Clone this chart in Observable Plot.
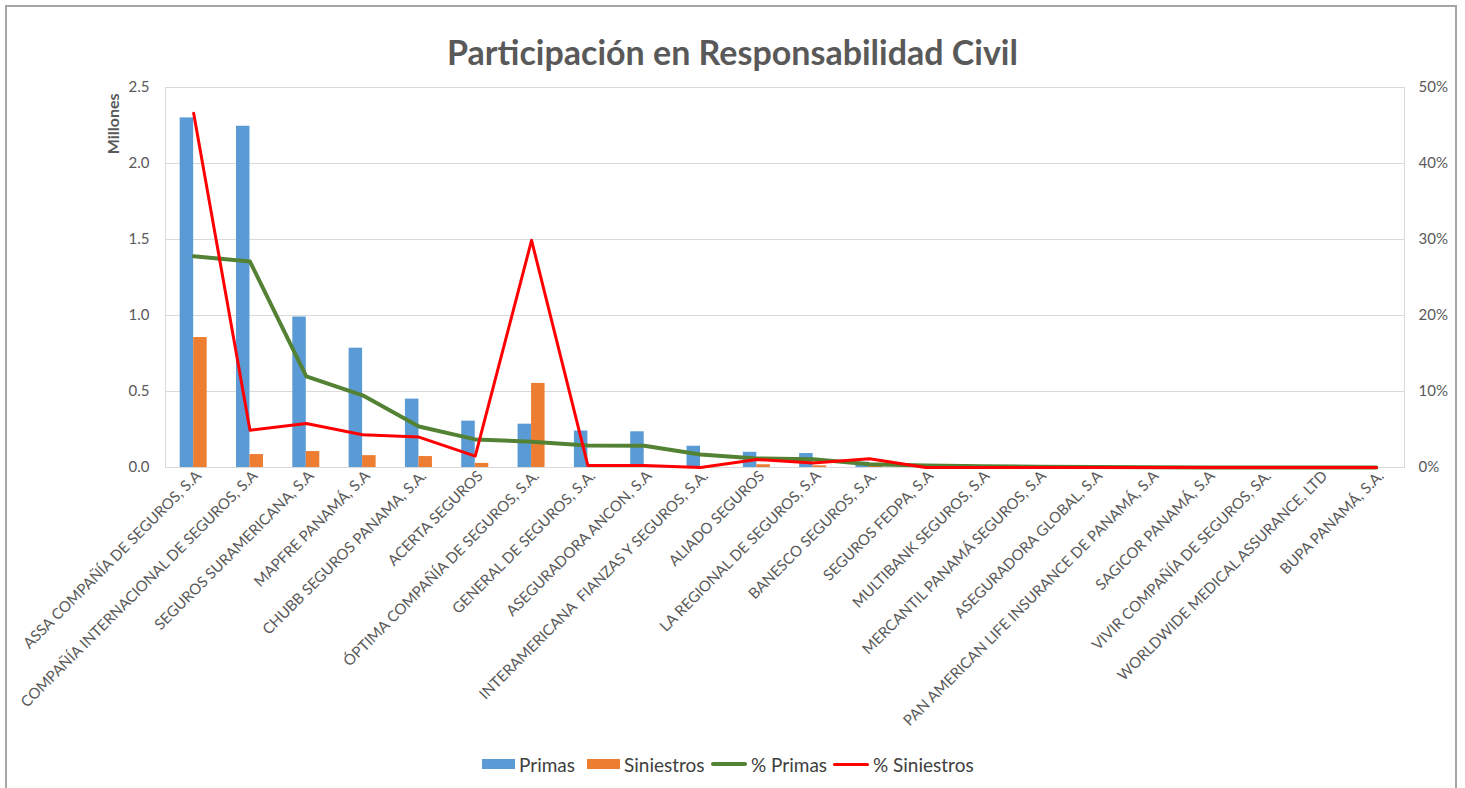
<!DOCTYPE html>
<html>
<head>
<meta charset="utf-8">
<script src="https://cdn.jsdelivr.net/npm/d3@7"></script>
<script src="https://cdn.jsdelivr.net/npm/@observablehq/plot@0.6"></script>
<style>
  html, body { margin: 0; padding: 0; background: #fff; overflow: hidden; }
  #frame { position: absolute; left: 5px; top: 5px; width: 1452px; height: 820px; border: 2px solid #a6a6a6; box-sizing: border-box; pointer-events: none; }
  #title { position: absolute; left: 0; top: 0; width: 1465px; height: 75px; text-align: center; font-family: Lato, "Open Sans", sans-serif; font-weight: 700; font-size: 34px; color: #595959; line-height: 104px; }
  #chart { position: absolute; left: 0; top: 75px; }
  #chart svg text { white-space: pre; }
  #legend { position: absolute; left: 0; top: 745px; width: 1465px; height: 40px; font-family: Lato, "Open Sans", sans-serif; font-size: 19px; color: #404040; }
  .li { position: absolute; top: 7px; display: flex; align-items: center; height: 24px; }
  .sw { display: inline-block; margin-right: 4px; }
</style>
</head>
<body>
<div id="title">Participación en Responsabilidad Civil</div>
<div id="chart"></div>
<div id="legend"></div>
<div id="frame"></div>
<script>
const categories = [
  "ASSA COMPAÑÍA DE SEGUROS, S.A",
  "COMPAÑÍA INTERNACIONAL DE SEGUROS, S.A",
  "SEGUROS SURAMERICANA, S.A",
  "MAPFRE PANAMÁ, S.A",
  "CHUBB SEGUROS PANAMA, S.A.",
  "ACERTA SEGUROS",
  "ÓPTIMA COMPAÑÍA DE SEGUROS, S.A.",
  "GENERAL DE SEGUROS, S.A.",
  "ASEGURADORA ANCON, S.A",
  "INTERAMERICANA  FIANZAS Y SEGUROS, S.A.",
  "ALIADO SEGUROS",
  "LA REGIONAL DE SEGUROS, S.A",
  "BANESCO SEGUROS, S.A.",
  "SEGUROS FEDPA, S.A",
  "MULTIBANK SEGUROS, S.A",
  "MERCANTIL PANAMÁ SEGUROS, S.A",
  "ASEGURADORA GLOBAL, S.A",
  "PAN AMERICAN LIFE INSURANCE DE PANAMÁ, S.A",
  "SAGICOR PANAMÁ, S.A",
  "VIVIR COMPAÑÍA DE SEGUROS, SA.",
  "WORLDWIDE MEDICAL ASSURANCE, LTD",
  "BUPA PANAMÁ, S.A."
];
// Millones
const primas = [2.30, 2.245, 0.99, 0.785, 0.45, 0.305, 0.285, 0.24, 0.235, 0.14, 0.10, 0.092, 0.035, 0.018, 0.012, 0.008, 0.004, 0.002, 0.001, 0.001, 0.0005, 0.0003];
const siniestros = [0.855, 0.085, 0.105, 0.078, 0.072, 0.027, 0.553, 0.004, 0.005, 0, 0.018, 0.011, 0.02, 0, 0, 0, 0, 0, 0, 0, 0, 0];
// Percent
const pctPrimas = [27.8, 27.1, 12.0, 9.5, 5.4, 3.7, 3.4, 2.9, 2.85, 1.7, 1.2, 1.1, 0.42, 0.25, 0.15, 0.1, 0.05, 0.02, 0.01, 0.01, 0.005, 0.003];
const pctSiniestros = [46.6, 4.9, 5.8, 4.3, 4.0, 1.5, 29.9, 0.25, 0.25, 0, 1.05, 0.6, 1.15, 0, 0, 0, 0, 0, 0, 0, 0, 0];
const leftTicks = [0, 0.5, 1.0, 1.5, 2.0, 2.5];
const rightTickLabels = ["0%", "10%", "20%", "30%", "40%", "50%"];

const colors = {primas: "#5b9bd5", siniestros: "#ed7d31", pctPrimas: "#548235", pctSiniestros: "#ff0000"};

const rows = categories.map((c, i) => ({
  cat: c, primas: primas[i], siniestros: siniestros[i],
  pctPrimas: pctPrimas[i], pctSiniestros: pctSiniestros[i]
}));
// right axis: 50% corresponds to 2.5 millones
const pctToLeft = p => p / 100 * 5;

const W = 1465, H = 670;
const step = (W - 165 - 61) / categories.length;
const bw = 13.5;
const pin = 1 - bw / step;

const chart = Plot.plot({
  width: W, height: H,
  marginLeft: 165, marginRight: 61, marginTop: 12, marginBottom: 278,
  style: {fontFamily: "Lato, 'Open Sans', sans-serif", fontSize: "13px", color: "#595959", background: "#fff"},
  x: {type: "band", domain: categories, paddingInner: pin, paddingOuter: pin / 2, align: 0.5, round: false},
  y: {domain: [0, 2.5], label: null},
  marks: [
    Plot.gridY(leftTicks, {stroke: "#d9d9d9", strokeOpacity: 1}),
    Plot.frame({stroke: "#d9d9d9"}),
    Plot.barY(rows, {x: "cat", y: "primas", fill: colors.primas, dx: -bw / 2}),
    Plot.barY(rows, {x: "cat", y: "siniestros", fill: colors.siniestros, dx: bw / 2}),
    Plot.ruleY([0], {stroke: "#d9d9d9", strokeWidth: 1.2}),
    Plot.line(rows, {x: "cat", y: d => pctToLeft(d.pctPrimas), stroke: colors.pctPrimas, strokeWidth: 4, strokeLinejoin: "round", strokeLinecap: "round"}),
    Plot.line(rows, {x: "cat", y: d => pctToLeft(d.pctSiniestros), stroke: colors.pctSiniestros, strokeWidth: 3, strokeLinejoin: "round", strokeLinecap: "round"}),
    Plot.axisY(leftTicks, {anchor: "left", tickSize: 0, tickPadding: 16, tickFormat: d3.format(".1f"), label: null, fill: "#595959", fontSize: 15}),
    Plot.axisY(leftTicks, {anchor: "right", tickSize: 0, tickPadding: 14, tickFormat: (d, i) => rightTickLabels[i], label: null, fill: "#595959", fontSize: 15}),
    Plot.axisX({tickSize: 0, tickRotate: -45, tickPadding: 6, dx: 5, label: null, fill: "#595959", fontSize: 15}),
    Plot.text(["Millones"], {frameAnchor: "top-left", text: d => d, rotate: -90, textAnchor: "end", lineAnchor: "middle", dx: -52, dy: 6, fontWeight: "bold", fontSize: 16, fill: "#595959"})
  ]
});
document.getElementById("chart").appendChild(chart);

// legend
const legend = document.getElementById("legend");
const items = [
  {label: "Primas", color: colors.primas, type: "rect", left: 482},
  {label: "Siniestros", color: colors.siniestros, type: "rect", left: 587},
  {label: "% Primas", color: colors.pctPrimas, type: "line", left: 711, th: 4},
  {label: "% Siniestros", color: colors.pctSiniestros, type: "line", left: 833, th: 3}
];
for (const it of items) {
  const d = document.createElement("div");
  d.className = "li";
  d.style.left = it.left + "px";
  const s = document.createElement("span");
  s.className = "sw";
  s.style.background = it.color;
  if (it.type === "rect") { s.style.width = "33px"; s.style.height = "10px"; }
  else { s.style.width = "36px"; s.style.height = it.th + "px"; s.style.borderRadius = "2px"; }
  d.appendChild(s);
  const t = document.createElement("span");
  t.textContent = it.label;
  d.appendChild(t);
  legend.appendChild(d);
}
</script>
</body>
</html>
